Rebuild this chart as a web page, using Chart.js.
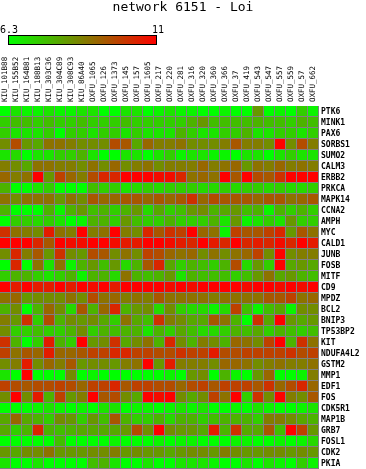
<!DOCTYPE html>
<html>
<head>
<meta charset="utf-8">
<script src="https://cdn.jsdelivr.net/npm/chart.js@4.4.1/dist/chart.umd.min.js"></script>
<style>
html,body{margin:0;padding:0;background:#fff;}
#wrap{width:366px;height:469px;position:relative;}
canvas{display:block;}
</style>
</head>
<body>
<div id="wrap"><canvas id="c" width="366" height="469"></canvas></div>
<script>
// ---- data ----
const chartTitle = 'network 6151 - Loi';
const scaleMin = 6.3;
const scaleMax = 11;
const scaleLabels = ['6.3', '11'];

const samples = ['KIU_101B88','KIU_155B52','KIU_164B81','KIU_188B13','KIU_303C36','KIU_304C89','KIU_308C93','KIU_86A40',
  'OXFU_1065','OXFU_126','OXFU_1373','OXFU_145','OXFU_157','OXFU_1605','OXFU_217','OXFU_220','OXFU_281','OXFU_316',
  'OXFU_320','OXFU_360','OXFU_366','OXFU_37','OXFU_419','OXFU_543','OXFU_547','OXFU_557','OXFU_559','OXFU_57','OXFU_662'];

const genes = ['PTK6','MINK1','PAX6','SORBS1','SUMO2','CALM3','ERBB2','PRKCA','MAPK14','CCNA2','AMPH','MYC','CALD1','JUNB',
  'FOSB','MITF','CD9','MPDZ','BCL2','BNIP3','TP53BP2','KIT','NDUFA4L2','GSTM2','MMP1','EDF1','FOS','CDK5R1','MAP1B',
  'GRB7','FOSL1','CDK2','PKIA'];

const v_PTK6     = [6.3,6.8,6.5,6.5,6.8,6.5,6.5,6.8,6.8,6.3,6.3,6.8,6.8,6.3,6.5,6.8,6.5,6.5,6.3,6.3,6.5,6.3,6.3,8.2,6.3,6.5,6.3,7.2,6.5];
const v_MINK1    = [7.2,7.5,7.5,7.2,7.5,7.2,7.2,7.5,7.2,7.2,7.2,7.5,7.2,7.2,7.2,7.2,7.2,7.7,8.2,7.5,7.5,7.5,7.5,7.7,7.5,7.5,7.2,7.7,7.5];
const v_PAX6     = [7.2,6.8,6.8,6.8,7.2,6.3,7.2,7.2,6.8,7.2,7.2,6.8,7.2,6.8,6.8,6.8,7.7,7.2,6.8,6.8,7.2,7.2,7.7,6.8,6.8,7.2,7.2,6.8,7.2];
const v_SORBS1   = [8.4,9.6,8.2,7.9,8.9,8.9,8.7,8.4,8.4,8.4,9.6,9.4,7.9,9.1,8.7,8.7,8.9,8.4,8.4,8.4,8.7,9.4,8.7,8.7,8.4,11.0,8.4,9.6,8.7];
const v_SUMO2    = [6.8,7.0,6.3,6.8,6.8,7.2,7.2,7.7,6.8,6.3,6.3,6.8,6.8,6.3,6.8,7.2,6.5,6.8,6.8,6.5,6.5,6.3,6.8,6.8,6.3,6.8,7.2,6.8,6.8];
const v_CALM3    = [8.7,8.4,7.9,8.9,8.9,8.7,8.7,8.4,8.9,8.4,9.1,8.4,8.7,8.9,8.4,8.7,8.7,8.7,9.1,8.7,8.9,9.1,8.2,8.9,8.7,9.1,8.7,8.9,8.7];
const v_ERBB2    = [9.1,8.7,8.9,11.0,8.2,9.8,9.1,8.7,9.6,10.3,10.3,11.0,11.0,11.0,10.8,10.8,10.3,8.9,9.1,8.9,11.0,9.4,11.0,9.6,9.4,10.1,11.0,11.0,11.0];
const v_PRKCA    = [7.7,6.3,6.3,6.8,7.2,6.3,6.3,6.3,7.5,7.2,7.2,6.8,7.0,7.2,7.0,7.2,7.2,7.2,7.0,7.0,7.2,7.0,7.2,7.2,7.0,7.2,7.0,7.0,7.2];
const v_MAPK14   = [8.9,8.4,8.9,8.9,8.9,8.2,8.9,8.4,9.4,9.1,9.1,9.4,9.4,9.1,9.4,9.1,9.4,10.1,9.1,9.6,9.4,9.4,9.4,9.1,9.4,9.4,8.9,9.1,9.4];
const v_CCNA2    = [7.7,6.3,6.3,6.3,7.7,6.5,7.7,8.2,7.5,7.7,7.2,7.7,8.2,7.0,7.9,7.2,7.5,8.2,8.4,7.7,7.9,8.2,7.5,7.7,6.5,7.7,7.2,7.7,7.2];
const v_AMPH     = [6.3,7.2,7.2,7.0,7.2,6.8,6.3,6.5,7.7,7.7,7.2,8.2,7.5,7.2,7.2,7.7,7.2,7.2,7.2,7.7,6.8,8.2,6.5,6.8,7.2,6.8,8.2,7.2,7.2];
const v_MYC      = [10.1,8.9,8.7,8.4,10.5,8.9,8.7,11.0,8.7,8.9,11.0,8.7,8.4,10.3,9.4,10.1,9.8,11.0,9.1,8.9,6.5,9.8,9.4,9.4,9.8,10.3,8.2,9.4,8.9];
const v_CALD1    = [11.0,11.0,11.0,10.3,9.4,11.0,10.8,10.8,11.0,11.0,10.8,10.5,10.5,11.0,11.0,10.8,10.5,10.3,11.0,10.5,10.3,11.0,10.3,10.5,10.3,10.8,10.3,11.0,10.5];
const v_JUNB     = [8.4,10.3,8.7,9.4,8.2,10.1,8.4,8.2,9.6,9.4,8.4,8.9,8.4,9.8,9.6,9.1,8.9,9.1,8.4,8.9,8.4,8.9,9.1,9.8,8.4,11.0,8.4,8.7,8.7];
const v_FOSB     = [6.3,10.3,6.3,8.9,6.8,8.9,6.5,7.7,8.2,7.5,8.2,7.0,7.7,9.4,10.3,7.9,7.2,7.7,7.5,7.2,7.7,9.6,7.0,8.2,7.2,11.0,7.9,8.2,7.9];
const v_MITF     = [7.2,7.7,7.7,7.2,6.8,7.2,7.7,6.5,7.7,7.7,7.0,8.9,7.7,7.5,7.7,8.2,6.8,7.7,7.5,7.5,7.5,7.2,7.5,8.2,8.9,7.9,8.2,7.7,7.5];
const v_CD9      = [11.0,10.5,11.0,10.5,10.5,11.0,10.5,11.0,10.8,11.0,10.5,11.0,11.0,11.0,11.0,10.8,11.0,10.8,11.0,11.0,11.0,11.0,10.8,11.0,11.0,10.8,11.0,10.8,11.0];
const v_MPDZ     = [8.9,9.1,8.2,8.4,8.4,8.4,8.9,8.4,9.6,8.9,9.1,8.7,8.9,8.7,9.4,8.9,8.9,8.9,8.9,8.7,8.9,8.9,8.9,8.9,9.4,9.4,9.8,8.9,9.1];
const v_BCL2     = [7.7,8.4,6.3,7.7,9.1,8.4,7.0,9.4,7.7,9.1,10.3,7.7,8.2,8.4,7.0,8.4,7.2,7.0,7.0,6.5,7.0,9.8,7.5,6.5,7.5,7.9,6.5,8.4,8.4];
const v_BNIP3    = [8.7,8.2,10.1,7.2,9.6,7.7,8.4,8.2,8.4,7.9,7.2,8.9,7.9,7.5,10.1,8.7,8.4,7.9,7.9,9.4,8.9,7.7,6.3,10.1,7.9,11.0,8.2,7.9,8.2];
const v_TP53BP2  = [8.4,7.2,7.2,7.5,7.2,7.2,7.7,8.4,7.2,7.7,7.5,7.7,7.7,6.8,7.7,7.2,7.9,7.5,7.0,7.0,7.2,7.7,7.5,7.9,7.2,7.7,7.5,7.2,7.5];
const v_KIT      = [10.1,7.7,6.3,7.2,10.5,7.7,7.2,11.0,8.2,8.4,10.1,7.9,8.4,8.9,7.7,10.3,8.4,7.7,8.7,8.4,7.7,9.1,8.9,8.4,9.8,11.0,7.7,10.1,8.9];
const v_NDUFA4L2 = [9.8,8.9,9.4,9.1,10.5,9.1,9.1,9.4,9.8,9.8,10.3,10.3,9.8,9.8,9.6,9.6,10.1,9.8,9.8,10.5,9.6,9.6,9.8,9.8,9.8,9.8,10.1,9.6,9.8];
const v_GSTM2    = [8.4,8.7,10.5,8.4,9.1,8.7,9.4,8.2,8.4,8.4,8.2,8.7,8.9,11.0,8.2,10.5,8.7,8.7,8.7,8.4,9.1,9.1,8.9,8.4,8.7,8.9,8.7,8.7,8.9];
const v_MMP1     = [6.8,6.3,11.0,6.3,6.3,6.3,8.4,6.3,6.5,6.3,6.3,6.3,6.3,6.3,6.3,6.5,6.3,8.2,8.4,6.3,7.7,6.5,6.3,8.2,9.1,6.3,6.3,6.5,8.7];
const v_EDF1     = [9.8,9.6,9.4,9.6,9.6,9.8,9.6,9.1,9.8,9.8,10.3,9.4,9.8,9.8,9.6,9.6,9.1,9.6,9.8,9.4,9.8,9.8,9.8,9.4,10.1,9.1,9.6,10.3,9.1];
const v_FOS      = [8.4,11.0,8.4,10.5,7.7,9.8,8.2,8.7,11.0,9.4,9.6,8.4,7.9,11.0,10.8,11.0,8.4,7.9,8.4,9.8,8.9,11.0,7.2,10.1,8.4,11.0,8.7,8.4,9.4];
const v_CDK5R1   = [6.3,6.3,6.3,6.5,6.8,6.5,6.3,6.5,6.3,6.8,6.8,6.3,6.5,6.5,6.3,6.5,6.8,6.5,6.8,6.3,6.3,6.5,6.3,6.8,6.5,6.3,6.3,6.5,6.8];
const v_MAP1B    = [7.9,9.1,7.9,7.7,7.2,8.4,8.2,7.2,8.2,7.5,9.4,7.7,7.2,7.2,7.7,7.0,7.7,7.7,7.2,7.5,7.7,7.7,7.7,7.2,8.7,8.7,8.4,7.9,7.7];
const v_GRB7     = [7.9,7.2,7.7,10.3,7.7,7.5,7.7,7.9,7.9,7.9,7.9,8.2,9.6,8.4,11.0,8.4,8.2,8.2,7.9,10.5,7.7,10.1,7.9,7.9,9.4,7.5,11.0,9.8,8.2];
const v_FOSL1    = [6.3,6.3,6.3,6.3,6.3,7.5,6.3,6.3,6.3,6.3,6.5,6.3,6.3,6.3,6.5,6.3,6.5,6.5,6.3,6.3,6.3,6.5,6.5,6.3,6.3,6.5,6.3,6.5,7.0];
const v_CDK2     = [8.2,7.9,8.4,8.4,8.9,8.2,8.2,8.2,8.4,8.4,8.7,8.2,8.4,8.2,8.2,7.9,8.2,8.4,8.4,8.2,8.7,8.4,8.2,8.2,8.4,8.4,8.2,8.4,8.2];
const v_PKIA     = [6.8,6.3,6.3,6.8,6.3,6.3,6.3,6.3,7.5,7.7,6.8,6.3,6.3,6.8,6.3,6.3,6.8,6.8,6.8,6.5,6.3,6.3,6.8,6.3,6.8,6.5,6.3,7.2,6.5];

const rows = [v_PTK6,v_MINK1,v_PAX6,v_SORBS1,v_SUMO2,v_CALM3,v_ERBB2,v_PRKCA,v_MAPK14,v_CCNA2,v_AMPH,v_MYC,v_CALD1,
  v_JUNB,v_FOSB,v_MITF,v_CD9,v_MPDZ,v_BCL2,v_BNIP3,v_TP53BP2,v_KIT,v_NDUFA4L2,v_GSTM2,v_MMP1,v_EDF1,v_FOS,v_CDK5R1,
  v_MAP1B,v_GRB7,v_FOSL1,v_CDK2,v_PKIA];

// ---- colour mapping ----
function colorFor(v) {
  let t = (v - scaleMin) / (scaleMax - scaleMin);
  t = Math.max(0, Math.min(1, t));
  const r = Math.round(255 * t), g = Math.round(255 * (1 - t));
  return 'rgb(' + r + ',' + g + ',0)';
}

const datasets = genes.map((g, i) => ({
  label: g,
  data: rows[i].map(() => [i, i + 1]),
  backgroundColor: rows[i].map(colorFor),
  borderColor: '#808080',
  borderWidth: {top: 0, left: 0, right: 1, bottom: 1},
  borderSkipped: false,
  inflateAmount: 0,
  grouped: false,
  barPercentage: 1,
  categoryPercentage: 1
}));

const TITLE_H = 16;
const PLOT_TOP = 106;
const PLOT_RIGHT = 319;
const COL_LH = 8;

const colorBarPlugin = {
  id: 'colorBar',
  afterDraw(chart) {
    const ctx = chart.ctx;
    const x0 = 8, x1 = 157, y0 = 35, y1 = 45;
    ctx.save();
    const grad = ctx.createLinearGradient(x0, 0, x1, 0);
    grad.addColorStop(0, colorFor(scaleMin));
    grad.addColorStop(0.5, colorFor((scaleMin + scaleMax) / 2));
    grad.addColorStop(1, colorFor(scaleMax));
    ctx.fillStyle = grad;
    ctx.fillRect(x0, y0, x1 - x0, y1 - y0);
    ctx.strokeStyle = '#000';
    ctx.lineWidth = 1;
    ctx.strokeRect(x0 + 0.5, y0 + 0.5, x1 - x0 - 1, y1 - y0 - 1);
    ctx.fillStyle = '#000';
    ctx.font = '10px "DejaVu Sans Mono"';
    ctx.textBaseline = 'alphabetic';
    ctx.textAlign = 'left';
    ctx.fillText(scaleLabels[0], 0, 33);
    ctx.textAlign = 'right';
    ctx.fillText(scaleLabels[1], 164, 33);
    ctx.restore();
  }
};

new Chart(document.getElementById('c'), {
  type: 'bar',
  data: {labels: samples, datasets: datasets},
  options: {
    responsive: false,
    animation: false,
    events: [],
    layout: {padding: 0, autoPadding: false},
    plugins: {
      legend: {display: false},
      tooltip: {enabled: false},
      title: {
        display: true,
        text: chartTitle,
        color: '#000',
        font: {family: '"DejaVu Sans Mono"', size: 13, weight: 'normal', lineHeight: TITLE_H + 'px'},
        padding: {top: 0, bottom: 0}
      }
    },
    scales: {
      x: {
        type: 'category',
        position: 'top',
        offset: true,
        grid: {display: false, drawTicks: false},
        border: {display: false},
        ticks: {
          autoSkip: false,
          minRotation: 90,
          maxRotation: 90,
          padding: 4,
          labelOffset: COL_LH,
          color: '#000',
          font: {family: '"DejaVu Sans Mono"', size: 7.5, lineHeight: COL_LH + 'px'}
        },
        afterFit(s) { s.height = PLOT_TOP - TITLE_H; s.paddingLeft = 0; s.paddingRight = 0; }
      },
      y: {
        type: 'linear',
        position: 'right',
        reverse: true,
        min: 0,
        max: genes.length,
        grid: {display: false, drawTicks: false},
        border: {display: false},
        afterBuildTicks(axis) { axis.ticks = genes.map((g, i) => ({value: i + 0.5})); },
        ticks: {
          autoSkip: false,
          padding: 2,
          color: '#000',
          font: {family: '"DejaVu Sans Mono"', size: 8, weight: 'bold'},
          callback: (v, i) => genes[i]
        },
        afterFit(s) { s.width = 366 - PLOT_RIGHT; s.paddingTop = 0; s.paddingBottom = 0; }
      }
    }
  },
  plugins: [colorBarPlugin]
});
</script>
</body>
</html>
